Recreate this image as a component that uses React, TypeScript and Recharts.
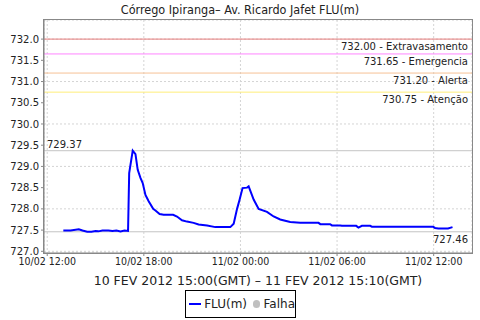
import {
  LineChart,
  Line,
  XAxis,
  YAxis,
  CartesianGrid,
  ReferenceLine,
} from "recharts";

// hours counted from 10/02 00:00 (local)
const hours = [
  13.0, 13.45, 13.96, 14.19, 14.48, 14.75, 15.0, 15.18, 15.43, 15.8, 16.05,
  16.3, 16.55, 16.8, 17.02, 17.09, 17.31, 17.48, 17.62, 17.79, 17.93, 18.1,
  18.3, 18.58, 18.72, 18.98, 19.23, 19.82, 20.06, 20.37, 20.68, 21.09, 21.4,
  21.93, 22.44, 23.37, 23.58, 23.79, 23.95, 24.13, 24.41, 24.51, 24.82, 25.13,
  25.65, 26.06, 26.47, 27.09, 27.71, 28.85, 28.96, 29.57, 29.68, 30.2, 30.3,
  31.19, 31.33, 31.54, 32.06, 32.16, 35.96, 36.08, 36.29, 36.89, 37.17,
];

const flu = [
  727.49, 727.49, 727.52, 727.49, 727.46, 727.46, 727.48, 727.47, 727.49,
  727.49, 727.48, 727.49, 727.47, 727.49, 727.48, 728.84, 729.37, 729.29,
  728.92, 728.73, 728.61, 728.33, 728.18, 728.0, 727.96, 727.88, 727.86,
  727.86, 727.82, 727.73, 727.7, 727.67, 727.63, 727.61, 727.57, 727.57,
  727.65, 728.0, 728.22, 728.49, 728.5, 728.53, 728.22, 728.0, 727.93, 727.82,
  727.75, 727.69, 727.67, 727.67, 727.64, 727.64, 727.61, 727.61, 727.6,
  727.6, 727.56, 727.6, 727.6, 727.58, 727.58, 727.55, 727.54, 727.54, 727.57,
];

const xTicks = [12, 18, 24, 30, 36];
const xTickLabels = [
  "10/02 12:00",
  "10/02 18:00",
  "11/02 00:00",
  "11/02 06:00",
  "11/02 12:00",
];
const yTicks = [
  727.0, 727.5, 728.0, 728.5, 729.0, 729.5, 730.0, 730.5, 731.0, 731.5, 732.0,
];

const limitValues = [732.0, 731.65, 731.2, 730.75];
const limitNames = ["Extravasamento", "Emergencia", "Alerta", "Atenção"];
const limitColors = ["#E57B7B", "#FF85FF", "#F6C196", "#FFEE7A"];

const maxValue = 729.37;
const minValue = 727.46;

const data = hours.map((h, i) => ({ h, v: flu[i] }));

const font = "'DejaVu Sans', sans-serif";
const condensed = "'DejaVu Sans Condensed', 'DejaVu Sans', sans-serif";

export default function App() {
  return (
    <div
      style={{
        position: "fixed",
        left: 0,
        top: 0,
        width: 480,
        height: 320,
        background: "#fff",
        fontFamily: font,
      }}
    >
      <div
        style={{
          position: "absolute",
          top: 2,
          left: 0,
          width: 480,
          textAlign: "center",
          fontSize: 12.5,
          fontFamily: condensed,
          color: "#222",
        }}
      >
        Córrego Ipiranga– Av. Ricardo Jafet FLU(m)
      </div>
      <LineChart
        width={480}
        height={320}
        data={data}
        margin={{ top: 20, right: 8, left: 0, bottom: 47 }}
      >
        <CartesianGrid stroke="#d4d4d4" strokeDasharray="2 2" />
        <XAxis
          dataKey="h"
          type="number"
          domain={[11.8, 38.38]}
          allowDataOverflow
          ticks={xTicks}
          tickFormatter={(v) => xTickLabels[xTicks.indexOf(v)] ?? ""}
          tick={{ fontSize: 10.5, fill: "#222", fontFamily: condensed }}
          tickSize={3}
          tickLine={{ stroke: "#888" }}
          axisLine={{ stroke: "#888" }}
          height={20}
        />
        <YAxis
          type="number"
          domain={[726.96, 732.45]}
          allowDataOverflow
          ticks={yTicks}
          tickFormatter={(v) => v.toFixed(1)}
          tick={{ fontSize: 10, fill: "#222", fontFamily: font }}
          tickSize={3}
          tickLine={{ stroke: "#888" }}
          axisLine={{ stroke: "#888" }}
          width={44}
        />
        {limitValues.map((y, i) => (
          <ReferenceLine
            key={limitNames[i]}
            y={y}
            stroke={limitColors[i]}
            strokeWidth={1}
            label={{
              value: `${y.toFixed(2)} - ${limitNames[i]}`,
              position: "insideTopRight",
              offset: 4,
              fill: "#222",
              fontSize: 10,
              fontFamily: font,
            }}
          />
        ))}
        <ReferenceLine
          y={maxValue}
          stroke="#c4c4c4"
          label={{
            value: maxValue.toFixed(2),
            position: "insideBottomLeft",
            offset: 3,
            fill: "#222",
            fontSize: 10,
            fontFamily: font,
          }}
        />
        <ReferenceLine
          y={minValue}
          stroke="#c4c4c4"
          label={{
            value: minValue.toFixed(2),
            position: "insideTopRight",
            offset: 4,
            fill: "#222",
            fontSize: 10,
            fontFamily: font,
          }}
        />
        <Line
          type="linear"
          dataKey="v"
          stroke="#0000FF"
          strokeWidth={2}
          dot={false}
          isAnimationActive={false}
        />
      </LineChart>
      <div
        style={{
          position: "absolute",
          left: 43,
          top: 19,
          width: 428,
          height: 233,
          border: "1px solid #888",
          pointerEvents: "none",
        }}
      />
      <div
        style={{
          position: "absolute",
          top: 273,
          left: 44,
          width: 428,
          textAlign: "center",
          fontSize: 12.5,
          color: "#222",
        }}
      >
        10 FEV 2012 15:00(GMT) – 11 FEV 2012 15:10(GMT)
      </div>
      <div
        style={{
          position: "absolute",
          left: 185,
          top: 290,
          width: 111,
          height: 28,
          border: "1px solid #000",
          display: "flex",
          alignItems: "center",
          fontSize: 12,
          color: "#222",
          boxSizing: "border-box",
        }}
      >
        <span
          style={{
            display: "inline-block",
            width: 15,
            height: 2,
            background: "#0000FF",
            marginLeft: 3,
            marginRight: 3,
          }}
        />
        <span>FLU(m)</span>
        <span
          style={{
            display: "inline-block",
            width: 8,
            height: 8,
            borderRadius: 4,
            background: "#c0c0c0",
            marginLeft: 6,
            marginRight: 4,
          }}
        />
        <span>Falha</span>
      </div>
    </div>
  );
}
